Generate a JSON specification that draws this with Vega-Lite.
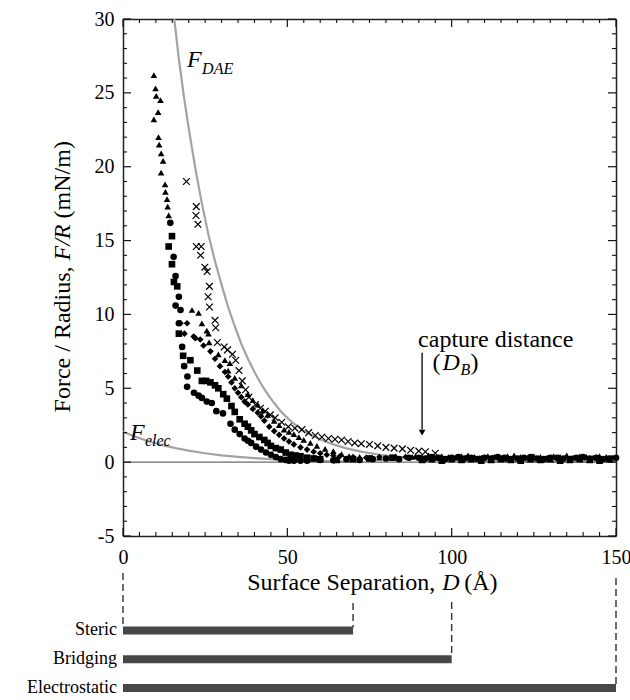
{
  "$schema": "https://vega.github.io/schema/vega-lite/v6.json",
  "padding": {"left": 27, "top": 9, "right": 0, "bottom": 0},
  "background": "white",
  "config": {
    "view": {"stroke": null},
    "font": "Liberation Serif",
    "axis": {"labelFont": "Liberation Serif", "titleFont": "Liberation Serif", "labelColor": "black", "titleColor": "black", "titleFontWeight": "normal", "grid": false, "domainColor": "#222", "domainWidth": 1.5}
  },
  "datasets": {
    "xmajor": [{"v": 0}, {"v": 50}, {"v": 100}, {"v": 150}],
    "xminor": [{"v": 5}, {"v": 10}, {"v": 15}, {"v": 20}, {"v": 25}, {"v": 30}, {"v": 35}, {"v": 40}, {"v": 45}, {"v": 55}, {"v": 60}, {"v": 65}, {"v": 70}, {"v": 75}, {"v": 80}, {"v": 85}, {"v": 90}, {"v": 95}, {"v": 105}, {"v": 110}, {"v": 115}, {"v": 120}, {"v": 125}, {"v": 130}, {"v": 135}, {"v": 140}, {"v": 145}],
    "ymajor": [{"v": -5}, {"v": 0}, {"v": 5}, {"v": 10}, {"v": 15}, {"v": 20}, {"v": 25}, {"v": 30}],
    "yminor": [{"v": -4}, {"v": -3}, {"v": -2}, {"v": -1}, {"v": 1}, {"v": 2}, {"v": 3}, {"v": 4}, {"v": 6}, {"v": 7}, {"v": 8}, {"v": 9}, {"v": 11}, {"v": 12}, {"v": 13}, {"v": 14}, {"v": 16}, {"v": 17}, {"v": 18}, {"v": 19}, {"v": 21}, {"v": 22}, {"v": 23}, {"v": 24}, {"v": 26}, {"v": 27}, {"v": 28}, {"v": 29}],
    "curves": [
      {"curve": "DAE", "D": 15.6, "F": 30}, {"curve": "DAE", "D": 17, "F": 27.3}, {"curve": "DAE", "D": 18.5, "F": 24.8}, {"curve": "DAE", "D": 20, "F": 22.6}, {"curve": "DAE", "D": 22, "F": 19.9}, {"curve": "DAE", "D": 24, "F": 17.5}, {"curve": "DAE", "D": 26, "F": 15.4}, {"curve": "DAE", "D": 28, "F": 13.6}, {"curve": "DAE", "D": 30, "F": 12.0}, {"curve": "DAE", "D": 32, "F": 10.5}, {"curve": "DAE", "D": 34, "F": 9.2}, {"curve": "DAE", "D": 36, "F": 8.0}, {"curve": "DAE", "D": 38, "F": 7.0}, {"curve": "DAE", "D": 40, "F": 6.1}, {"curve": "DAE", "D": 42, "F": 5.3}, {"curve": "DAE", "D": 44, "F": 4.6}, {"curve": "DAE", "D": 46, "F": 4.0}, {"curve": "DAE", "D": 48, "F": 3.45}, {"curve": "DAE", "D": 50, "F": 3.0}, {"curve": "DAE", "D": 52, "F": 2.6}, {"curve": "DAE", "D": 54.6, "F": 2.17}, {"curve": "DAE", "D": 57, "F": 1.85}, {"curve": "DAE", "D": 59.6, "F": 1.58}, {"curve": "DAE", "D": 62, "F": 1.36}, {"curve": "DAE", "D": 64.7, "F": 1.15}, {"curve": "DAE", "D": 68, "F": 0.93}, {"curve": "DAE", "D": 72.8, "F": 0.7}, {"curve": "DAE", "D": 78, "F": 0.5}, {"curve": "DAE", "D": 84, "F": 0.35}, {"curve": "DAE", "D": 90, "F": 0.25}, {"curve": "DAE", "D": 96, "F": 0.17}, {"curve": "DAE", "D": 102, "F": 0.12}, {"curve": "DAE", "D": 110, "F": 0.07}, {"curve": "DAE", "D": 120, "F": 0.04}, {"curve": "DAE", "D": 135, "F": 0.02}, {"curve": "DAE", "D": 150, "F": 0.01},
      {"curve": "elec", "D": 0, "F": 2.06}, {"curve": "elec", "D": 4, "F": 1.7}, {"curve": "elec", "D": 8, "F": 1.4}, {"curve": "elec", "D": 12, "F": 1.15}, {"curve": "elec", "D": 16, "F": 0.95}, {"curve": "elec", "D": 20, "F": 0.78}, {"curve": "elec", "D": 25, "F": 0.6}, {"curve": "elec", "D": 30, "F": 0.46}, {"curve": "elec", "D": 35, "F": 0.36}, {"curve": "elec", "D": 40, "F": 0.27}, {"curve": "elec", "D": 45, "F": 0.2}, {"curve": "elec", "D": 50, "F": 0.14}, {"curve": "elec", "D": 55, "F": 0.1}, {"curve": "elec", "D": 60, "F": 0.07}, {"curve": "elec", "D": 70, "F": 0.04}
    ],
    "pts": [
      {"D": 14.4, "F": 16.2, "s": "circle"}, {"D": 15.4, "F": 13.9, "s": "circle"}, {"D": 16.0, "F": 12.6, "s": "circle"}, {"D": 17.0, "F": 11.2, "s": "circle"}, {"D": 16.0, "F": 10.6, "s": "circle"}, {"D": 17.0, "F": 9.4, "s": "circle"}, {"D": 17.5, "F": 10.3, "s": "circle"}, {"D": 18.0, "F": 7.8, "s": "circle"}, {"D": 18.6, "F": 6.5, "s": "circle"}, {"D": 19.6, "F": 5.8, "s": "circle"}, {"D": 19.5, "F": 5.1, "s": "circle"}, {"D": 21.6, "F": 4.7, "s": "circle"}, {"D": 23, "F": 4.5, "s": "circle"}, {"D": 24, "F": 4.35, "s": "circle"}, {"D": 25.5, "F": 4.1, "s": "circle"}, {"D": 27, "F": 4.0, "s": "circle"}, {"D": 28.4, "F": 3.45, "s": "circle"}, {"D": 30.4, "F": 3.3, "s": "circle"}, {"D": 32.7, "F": 2.6, "s": "circle"}, {"D": 34, "F": 2.2, "s": "circle"}, {"D": 35.5, "F": 1.9, "s": "circle"}, {"D": 37, "F": 1.6, "s": "circle"}, {"D": 38, "F": 1.45, "s": "circle"}, {"D": 39, "F": 1.3, "s": "circle"}, {"D": 40.5, "F": 1.05, "s": "circle"}, {"D": 42, "F": 0.85, "s": "circle"}, {"D": 43.5, "F": 0.65, "s": "circle"}, {"D": 45, "F": 0.5, "s": "circle"}, {"D": 46.5, "F": 0.35, "s": "circle"}, {"D": 48, "F": 0.2, "s": "circle"}, {"D": 49.5, "F": 0.15, "s": "circle"}, {"D": 50.5, "F": 0.1, "s": "circle"}, {"D": 52, "F": 0.1, "s": "circle"}, {"D": 54, "F": 0.1, "s": "circle"},
      {"D": 14.9, "F": 15.3, "s": "square"}, {"D": 13.9, "F": 14.6, "s": "square"}, {"D": 14.9, "F": 13.4, "s": "square"}, {"D": 15.5, "F": 12.2, "s": "square"}, {"D": 16.5, "F": 11.9, "s": "square"}, {"D": 17.0, "F": 8.7, "s": "square"}, {"D": 18.3, "F": 7.2, "s": "square"}, {"D": 20.5, "F": 6.9, "s": "square"}, {"D": 22.6, "F": 6.2, "s": "square"}, {"D": 24, "F": 5.5, "s": "square"}, {"D": 25.3, "F": 5.5, "s": "square"}, {"D": 26.6, "F": 5.4, "s": "square"}, {"D": 28, "F": 5.2, "s": "square"}, {"D": 29, "F": 5.0, "s": "square"}, {"D": 30.5, "F": 4.6, "s": "square"}, {"D": 31.6, "F": 4.3, "s": "square"}, {"D": 33, "F": 3.8, "s": "square"}, {"D": 34, "F": 3.4, "s": "square"}, {"D": 35.5, "F": 2.9, "s": "square"}, {"D": 37, "F": 2.6, "s": "square"}, {"D": 38, "F": 2.4, "s": "square"}, {"D": 39, "F": 2.15, "s": "square"}, {"D": 40, "F": 1.9, "s": "square"}, {"D": 41.5, "F": 1.7, "s": "square"}, {"D": 43, "F": 1.5, "s": "square"}, {"D": 44, "F": 1.3, "s": "square"}, {"D": 45, "F": 1.1, "s": "square"}, {"D": 46.5, "F": 0.95, "s": "square"}, {"D": 48, "F": 0.85, "s": "square"}, {"D": 49.5, "F": 0.65, "s": "square"}, {"D": 51, "F": 0.5, "s": "square"}, {"D": 52.5, "F": 0.45, "s": "square"}, {"D": 54, "F": 0.4, "s": "square"}, {"D": 56, "F": 0.3, "s": "square"}, {"D": 58, "F": 0.25, "s": "square"},
      {"D": 17.5, "F": 9.4, "s": "diamond"}, {"D": 18.7, "F": 8.7, "s": "diamond"}, {"D": 19.5, "F": 9.4, "s": "diamond"}, {"D": 21.5, "F": 8.5, "s": "diamond"}, {"D": 22, "F": 8.4, "s": "diamond"}, {"D": 23.5, "F": 8.3, "s": "diamond"}, {"D": 24.5, "F": 7.9, "s": "diamond"}, {"D": 26.6, "F": 7.5, "s": "diamond"}, {"D": 28, "F": 7.0, "s": "diamond"}, {"D": 29.5, "F": 6.5, "s": "diamond"}, {"D": 31, "F": 6.1, "s": "diamond"}, {"D": 32, "F": 5.8, "s": "diamond"}, {"D": 33, "F": 5.4, "s": "diamond"}, {"D": 34, "F": 5.0, "s": "diamond"}, {"D": 35, "F": 4.7, "s": "diamond"}, {"D": 36, "F": 4.4, "s": "diamond"}, {"D": 37, "F": 4.1, "s": "diamond"}, {"D": 38, "F": 3.9, "s": "diamond"}, {"D": 39.5, "F": 3.6, "s": "diamond"}, {"D": 41, "F": 3.35, "s": "diamond"}, {"D": 42, "F": 3.1, "s": "diamond"}, {"D": 43, "F": 2.8, "s": "diamond"}, {"D": 44.5, "F": 2.4, "s": "diamond"}, {"D": 46, "F": 2.1, "s": "diamond"}, {"D": 47.5, "F": 1.85, "s": "diamond"}, {"D": 49, "F": 1.6, "s": "diamond"}, {"D": 50.5, "F": 1.4, "s": "diamond"}, {"D": 52, "F": 1.2, "s": "diamond"}, {"D": 54, "F": 1.0, "s": "diamond"}, {"D": 56, "F": 0.85, "s": "diamond"}, {"D": 58, "F": 0.7, "s": "diamond"}, {"D": 60, "F": 0.6, "s": "diamond"}, {"D": 62, "F": 0.5, "s": "diamond"}, {"D": 64, "F": 0.45, "s": "diamond"},
      {"D": 9.4, "F": 26.2, "s": "triangle"}, {"D": 9.9, "F": 25.3, "s": "triangle"}, {"D": 10.1, "F": 24.8, "s": "triangle"}, {"D": 11.4, "F": 24.5, "s": "triangle"}, {"D": 10.7, "F": 23.7, "s": "triangle"}, {"D": 9.4, "F": 23.2, "s": "triangle"}, {"D": 10.8, "F": 22.0, "s": "triangle"}, {"D": 11.0, "F": 21.5, "s": "triangle"}, {"D": 11.6, "F": 20.9, "s": "triangle"}, {"D": 12.2, "F": 20.4, "s": "triangle"}, {"D": 11.6, "F": 19.6, "s": "triangle"}, {"D": 12.8, "F": 18.8, "s": "triangle"}, {"D": 12.9, "F": 18.3, "s": "triangle"}, {"D": 13.4, "F": 17.8, "s": "triangle"}, {"D": 13.6, "F": 17.3, "s": "triangle"}, {"D": 13.9, "F": 16.7, "s": "triangle"},
      {"D": 21, "F": 10.3, "s": "triangle"}, {"D": 23, "F": 10.1, "s": "triangle"}, {"D": 24, "F": 9.4, "s": "triangle"}, {"D": 25.5, "F": 8.9, "s": "triangle"}, {"D": 26, "F": 8.7, "s": "triangle"}, {"D": 26.2, "F": 8.1, "s": "triangle"}, {"D": 29, "F": 7.3, "s": "triangle"}, {"D": 31, "F": 6.9, "s": "triangle"}, {"D": 32, "F": 6.2, "s": "triangle"}, {"D": 32.5, "F": 6.7, "s": "triangle"}, {"D": 34, "F": 5.7, "s": "triangle"}, {"D": 36, "F": 5.2, "s": "triangle"}, {"D": 38, "F": 4.6, "s": "triangle"}, {"D": 39.5, "F": 4.2, "s": "triangle"}, {"D": 41, "F": 3.9, "s": "triangle"}, {"D": 42.5, "F": 3.5, "s": "triangle"}, {"D": 44, "F": 3.2, "s": "triangle"}, {"D": 46, "F": 2.8, "s": "triangle"}, {"D": 47.5, "F": 2.5, "s": "triangle"}, {"D": 49, "F": 2.2, "s": "triangle"}, {"D": 50.5, "F": 2.05, "s": "triangle"}, {"D": 52, "F": 1.9, "s": "triangle"}, {"D": 53.5, "F": 1.7, "s": "triangle"}, {"D": 55, "F": 1.5, "s": "triangle"}, {"D": 57, "F": 1.3, "s": "triangle"}, {"D": 59, "F": 1.1, "s": "triangle"}, {"D": 61.5, "F": 0.9, "s": "triangle"}, {"D": 64, "F": 0.75, "s": "triangle"}, {"D": 66.5, "F": 0.55, "s": "triangle"}, {"D": 68.8, "F": 0.4, "s": "triangle"}, {"D": 72, "F": 0.35, "s": "triangle"}, {"D": 78, "F": 0.3, "s": "triangle"}, {"D": 83, "F": 0.4, "s": "triangle"}, {"D": 88, "F": 0.35, "s": "triangle"},
      {"D": 56, "F": 0.1, "s": "circle"}, {"D": 60, "F": 0.15, "s": "circle"}, {"D": 64, "F": 0.12, "s": "circle"}, {"D": 68, "F": 0.2, "s": "circle"}, {"D": 72, "F": 0.15, "s": "circle"}, {"D": 76, "F": 0.2, "s": "circle"}, {"D": 80, "F": 0.25, "s": "circle"}, {"D": 84, "F": 0.2, "s": "circle"}, {"D": 87, "F": 0.3, "s": "circle"},
      {"D": 60, "F": 0.2, "s": "square"}, {"D": 65, "F": 0.15, "s": "square"}, {"D": 70, "F": 0.2, "s": "square"}, {"D": 75, "F": 0.25, "s": "square"}, {"D": 82, "F": 0.3, "s": "square"},
      {"D": 66, "F": 0.4, "s": "diamond"}, {"D": 70, "F": 0.35, "s": "diamond"}, {"D": 74, "F": 0.3, "s": "diamond"}, {"D": 78, "F": 0.35, "s": "diamond"}, {"D": 82, "F": 0.3, "s": "diamond"}, {"D": 86, "F": 0.35, "s": "diamond"},
      {"D": 90, "F": 0.3, "s": "circle"}, {"D": 92, "F": 0.25, "s": "circle"}, {"D": 94, "F": 0.35, "s": "circle"}, {"D": 96, "F": 0.3, "s": "circle"}, {"D": 98, "F": 0.2, "s": "circle"}, {"D": 100, "F": 0.3, "s": "circle"}, {"D": 102, "F": 0.35, "s": "circle"}, {"D": 104, "F": 0.25, "s": "circle"}, {"D": 106, "F": 0.3, "s": "circle"}, {"D": 108, "F": 0.2, "s": "circle"}, {"D": 110, "F": 0.3, "s": "circle"}, {"D": 112, "F": 0.25, "s": "circle"}, {"D": 114, "F": 0.35, "s": "circle"}, {"D": 116, "F": 0.3, "s": "circle"}, {"D": 118, "F": 0.2, "s": "circle"}, {"D": 120, "F": 0.25, "s": "circle"}, {"D": 122, "F": 0.3, "s": "circle"}, {"D": 124, "F": 0.35, "s": "circle"}, {"D": 126, "F": 0.25, "s": "circle"}, {"D": 128, "F": 0.2, "s": "circle"}, {"D": 130, "F": 0.3, "s": "circle"}, {"D": 132, "F": 0.3, "s": "circle"}, {"D": 134, "F": 0.25, "s": "circle"}, {"D": 136, "F": 0.2, "s": "circle"}, {"D": 138, "F": 0.3, "s": "circle"}, {"D": 140, "F": 0.35, "s": "circle"}, {"D": 142, "F": 0.25, "s": "circle"}, {"D": 144, "F": 0.3, "s": "circle"}, {"D": 146, "F": 0.2, "s": "circle"}, {"D": 148, "F": 0.25, "s": "circle"}, {"D": 150, "F": 0.3, "s": "circle"},
      {"D": 89, "F": 0.4, "s": "triangle"}, {"D": 91, "F": 0.35, "s": "triangle"}, {"D": 93, "F": 0.45, "s": "triangle"}, {"D": 95, "F": 0.3, "s": "triangle"}, {"D": 97, "F": 0.4, "s": "triangle"}, {"D": 99, "F": 0.35, "s": "triangle"}, {"D": 101, "F": 0.3, "s": "triangle"}, {"D": 103, "F": 0.4, "s": "triangle"}, {"D": 105, "F": 0.45, "s": "triangle"}, {"D": 107, "F": 0.35, "s": "triangle"}, {"D": 109, "F": 0.3, "s": "triangle"}, {"D": 111, "F": 0.4, "s": "triangle"}, {"D": 113, "F": 0.35, "s": "triangle"}, {"D": 115, "F": 0.3, "s": "triangle"}, {"D": 117, "F": 0.4, "s": "triangle"}, {"D": 119, "F": 0.45, "s": "triangle"}, {"D": 121, "F": 0.35, "s": "triangle"}, {"D": 123, "F": 0.3, "s": "triangle"}, {"D": 125, "F": 0.4, "s": "triangle"}, {"D": 127, "F": 0.35, "s": "triangle"}, {"D": 129, "F": 0.3, "s": "triangle"}, {"D": 131, "F": 0.4, "s": "triangle"}, {"D": 133, "F": 0.35, "s": "triangle"}, {"D": 135, "F": 0.45, "s": "triangle"}, {"D": 137, "F": 0.3, "s": "triangle"}, {"D": 139, "F": 0.4, "s": "triangle"}, {"D": 141, "F": 0.35, "s": "triangle"}, {"D": 143, "F": 0.3, "s": "triangle"}, {"D": 145, "F": 0.4, "s": "triangle"}, {"D": 147, "F": 0.35, "s": "triangle"}, {"D": 149, "F": 0.3, "s": "triangle"},
      {"D": 91, "F": 0.15, "s": "square"}, {"D": 94, "F": 0.2, "s": "square"}, {"D": 97, "F": 0.1, "s": "square"}, {"D": 100, "F": 0.2, "s": "square"}, {"D": 103, "F": 0.15, "s": "square"}, {"D": 106, "F": 0.2, "s": "square"}, {"D": 109, "F": 0.1, "s": "square"}, {"D": 112, "F": 0.15, "s": "square"}, {"D": 115, "F": 0.2, "s": "square"}, {"D": 118, "F": 0.15, "s": "square"}, {"D": 121, "F": 0.1, "s": "square"}, {"D": 124, "F": 0.2, "s": "square"}, {"D": 127, "F": 0.15, "s": "square"}, {"D": 130, "F": 0.2, "s": "square"}, {"D": 133, "F": 0.1, "s": "square"}, {"D": 136, "F": 0.15, "s": "square"}, {"D": 139, "F": 0.2, "s": "square"}, {"D": 142, "F": 0.15, "s": "square"}, {"D": 145, "F": 0.1, "s": "square"}, {"D": 148, "F": 0.2, "s": "square"},
      {"D": 92.5, "F": 0.25, "s": "diamond"}, {"D": 96.5, "F": 0.3, "s": "diamond"}, {"D": 100.5, "F": 0.2, "s": "diamond"}, {"D": 104.5, "F": 0.3, "s": "diamond"}, {"D": 108.5, "F": 0.25, "s": "diamond"}, {"D": 112.5, "F": 0.3, "s": "diamond"}, {"D": 116.5, "F": 0.2, "s": "diamond"}, {"D": 120.5, "F": 0.25, "s": "diamond"}, {"D": 124.5, "F": 0.3, "s": "diamond"}, {"D": 128.5, "F": 0.2, "s": "diamond"}, {"D": 132.5, "F": 0.3, "s": "diamond"}, {"D": 136.5, "F": 0.25, "s": "diamond"}, {"D": 140.5, "F": 0.3, "s": "diamond"}, {"D": 144.5, "F": 0.2, "s": "diamond"}, {"D": 148.5, "F": 0.25, "s": "diamond"}
    ],
    "crosses": [
      {"D": 19.3, "F": 19.0}, {"D": 22.3, "F": 17.3}, {"D": 22.2, "F": 16.7}, {"D": 22.8, "F": 16.1}, {"D": 22.3, "F": 14.6}, {"D": 23.8, "F": 14.6}, {"D": 23.6, "F": 14.0}, {"D": 24.9, "F": 13.2}, {"D": 25.6, "F": 12.9}, {"D": 26.3, "F": 11.9}, {"D": 25.9, "F": 11.2}, {"D": 26.3, "F": 10.5}, {"D": 28, "F": 9.6}, {"D": 28.2, "F": 9.1}, {"D": 28.7, "F": 8.1}, {"D": 30.8, "F": 7.8}, {"D": 31.8, "F": 7.6}, {"D": 33.3, "F": 7.3}, {"D": 34.3, "F": 6.9}, {"D": 35.3, "F": 6.2}, {"D": 36.3, "F": 5.5}, {"D": 37.3, "F": 4.9}, {"D": 38.3, "F": 4.4}, {"D": 40.3, "F": 3.9}, {"D": 41.8, "F": 3.65}, {"D": 43.3, "F": 3.45}, {"D": 44.8, "F": 3.2}, {"D": 46.3, "F": 3.0}, {"D": 48.3, "F": 2.7}, {"D": 50.3, "F": 2.4}, {"D": 52.3, "F": 2.3}, {"D": 54.4, "F": 2.2}, {"D": 56.5, "F": 2.0}, {"D": 58.5, "F": 1.8}, {"D": 60.5, "F": 1.7}, {"D": 62.5, "F": 1.6}, {"D": 64.5, "F": 1.55}, {"D": 66.5, "F": 1.5}, {"D": 68.5, "F": 1.4}, {"D": 70.5, "F": 1.3}, {"D": 72.5, "F": 1.25}, {"D": 75, "F": 1.2}, {"D": 77.5, "F": 1.1}, {"D": 80, "F": 1.0}, {"D": 82.5, "F": 0.95}, {"D": 85, "F": 0.9}, {"D": 87.5, "F": 0.8}, {"D": 90, "F": 0.75}, {"D": 92, "F": 0.7}, {"D": 95, "F": 0.6}
    ],
    "bars": [
      {"name": "Steric", "start": 0, "end": 70, "row": 3},
      {"name": "Bridging", "start": 0, "end": 100, "row": 2},
      {"name": "Electrostatic", "start": 0, "end": 150, "row": 1}
    ],
    "dashes": [
      {"D": 0, "top": 5.0, "bottom": 3.23},
      {"D": 70, "top": 3.96, "bottom": 3.1},
      {"D": 100, "top": 3.99, "bottom": 2.1},
      {"D": 150, "top": 4.83, "bottom": 1.1}
    ]
  },
  "bounds": "flush",
  "spacing": 4,
  "vconcat": [
    {
      "width": 493,
      "height": 517,
      "resolve": {"axis": {"x": "independent", "y": "independent"}},
      "layer": [
        {
          "data": {"name": "curves"},
          "mark": {"type": "line", "color": "#a3a3a3", "strokeWidth": 2.2},
          "encoding": {
            "x": {"field": "D", "type": "quantitative", "scale": {"domain": [0, 150], "nice": false, "zero": false},
              "axis": {"orient": "bottom", "values": [0, 50, 100, 150], "ticks": false,
                "labelPadding": 11, "labelFontSize": 20, "labelFlush": false, "labelOverlap": false, "title": null}},
            "y": {"field": "F", "type": "quantitative", "scale": {"domain": [-5, 30], "nice": false, "zero": false},
              "axis": {"orient": "left", "values": [-5, 0, 5, 10, 15, 20, 25, 30], "ticks": false,
                "labelExpr": "'' + datum.value",
                "labelPadding": 9, "labelFontSize": 20, "labelFlush": false, "labelOverlap": false, "title": null}},
            "detail": {"field": "curve", "type": "nominal"}
          }
        },
        {
          "data": {"values": [{}]},
          "mark": {"type": "rule", "color": "#6a6a6a", "strokeWidth": 1.3},
          "encoding": {
            "x": {"datum": 0, "type": "quantitative",
              "axis": {"orient": "top", "values": [0, 50, 100, 150], "labels": false, "title": null, "ticks": false}},
            "x2": {"datum": 150},
            "y": {"datum": 0, "type": "quantitative",
              "axis": {"orient": "right", "values": [-5, 0, 5, 10, 15, 20, 25, 30], "labels": false, "title": null, "ticks": false}}
          }
        },
        {
          "data": {"name": "xmajor"},
          "mark": {"type": "rule", "color": "#111", "strokeWidth": 1.2},
          "encoding": {"x": {"field": "v", "type": "quantitative", "axis": null}, "y": {"datum": -5, "type": "quantitative", "axis": null}, "y2": {"datum": -4.46}}
        },
        {
          "data": {"name": "xmajor"},
          "mark": {"type": "rule", "color": "#111", "strokeWidth": 1.2},
          "encoding": {"x": {"field": "v", "type": "quantitative", "axis": null}, "y": {"datum": 30, "type": "quantitative", "axis": null}, "y2": {"datum": 29.46}}
        },
        {
          "data": {"name": "xminor"},
          "mark": {"type": "rule", "color": "#111", "strokeWidth": 1.1},
          "encoding": {"x": {"field": "v", "type": "quantitative", "axis": null}, "y": {"datum": -5, "type": "quantitative", "axis": null}, "y2": {"datum": -4.73}}
        },
        {
          "data": {"name": "xminor"},
          "mark": {"type": "rule", "color": "#111", "strokeWidth": 1.1},
          "encoding": {"x": {"field": "v", "type": "quantitative", "axis": null}, "y": {"datum": 30, "type": "quantitative", "axis": null}, "y2": {"datum": 29.73}}
        },
        {
          "data": {"name": "ymajor"},
          "mark": {"type": "rule", "color": "#111", "strokeWidth": 1.2},
          "encoding": {"y": {"field": "v", "type": "quantitative", "axis": null}, "x": {"datum": 0, "type": "quantitative", "axis": null}, "x2": {"datum": 2.43}}
        },
        {
          "data": {"name": "ymajor"},
          "mark": {"type": "rule", "color": "#111", "strokeWidth": 1.2},
          "encoding": {"y": {"field": "v", "type": "quantitative", "axis": null}, "x": {"datum": 150, "type": "quantitative", "axis": null}, "x2": {"datum": 147.57}}
        },
        {
          "data": {"name": "yminor"},
          "mark": {"type": "rule", "color": "#111", "strokeWidth": 1.1},
          "encoding": {"y": {"field": "v", "type": "quantitative", "axis": null}, "x": {"datum": 0, "type": "quantitative", "axis": null}, "x2": {"datum": 1.22}}
        },
        {
          "data": {"name": "yminor"},
          "mark": {"type": "rule", "color": "#111", "strokeWidth": 1.1},
          "encoding": {"y": {"field": "v", "type": "quantitative", "axis": null}, "x": {"datum": 150, "type": "quantitative", "axis": null}, "x2": {"datum": 148.78}}
        },
        {
          "data": {"name": "pts"},
          "mark": {"type": "point", "filled": true, "opacity": 1, "color": "black", "size": 44},
          "encoding": {
            "x": {"field": "D", "type": "quantitative", "axis": null},
            "y": {"field": "F", "type": "quantitative", "axis": null},
            "shape": {"field": "s", "type": "nominal", "scale": {"domain": ["circle", "square", "diamond", "triangle"], "range": ["circle", "square", "diamond", "triangle-up"]}, "legend": null}
          }
        },
        {
          "data": {"name": "crosses"},
          "mark": {"type": "point", "shape": "M-1,-1L1,1M-1,1L1,-1", "filled": false, "opacity": 1, "color": "black", "strokeWidth": 1.2, "size": 45},
          "encoding": {
            "x": {"field": "D", "type": "quantitative", "axis": null},
            "y": {"field": "F", "type": "quantitative", "axis": null}
          }
        },
        {
          "data": {"values": [{}]},
          "mark": {"type": "rule", "color": "black", "strokeWidth": 1.3},
          "encoding": {
            "x": {"datum": 91, "type": "quantitative", "axis": null},
            "y": {"datum": 7.4, "type": "quantitative", "axis": null},
            "y2": {"datum": 2.2}
          }
        },
        {
          "data": {"values": [{}]},
          "mark": {"type": "point", "shape": "triangle-down", "filled": true, "opacity": 1, "color": "black", "size": 45},
          "encoding": {
            "x": {"datum": 91, "type": "quantitative", "axis": null},
            "y": {"datum": 2.0, "type": "quantitative", "axis": null}
          }
        },
        {
          "data": {"values": [{}]},
          "mark": {"type": "text", "text": "capture distance", "font": "Liberation Serif", "fontSize": 24, "align": "center", "baseline": "alphabetic", "color": "black"},
          "encoding": {
            "x": {"datum": 113.4, "type": "quantitative", "axis": null},
            "y": {"datum": 7.8, "type": "quantitative", "axis": null}
          }
        },
        {
          "data": {"values": [{}]},
          "mark": {"type": "text", "text": "(", "font": "Liberation Serif", "fontSize": 24, "align": "left", "baseline": "alphabetic", "color": "black"},
          "encoding": {"x": {"datum": 94.2, "type": "quantitative", "axis": null}, "y": {"datum": 6.24, "type": "quantitative", "axis": null}}
        },
        {
          "data": {"values": [{}]},
          "mark": {"type": "text", "text": "D", "font": "Liberation Serif", "fontStyle": "italic", "fontSize": 24, "align": "left", "baseline": "alphabetic", "dx": 10, "color": "black"},
          "encoding": {"x": {"datum": 94.2, "type": "quantitative", "axis": null}, "y": {"datum": 6.24, "type": "quantitative", "axis": null}}
        },
        {
          "data": {"values": [{}]},
          "mark": {"type": "text", "text": "B", "font": "Liberation Serif", "fontStyle": "italic", "fontSize": 16, "align": "left", "baseline": "alphabetic", "dx": 28, "dy": 5, "color": "black"},
          "encoding": {"x": {"datum": 94.2, "type": "quantitative", "axis": null}, "y": {"datum": 6.24, "type": "quantitative", "axis": null}}
        },
        {
          "data": {"values": [{}]},
          "mark": {"type": "text", "text": ")", "font": "Liberation Serif", "fontSize": 24, "align": "left", "baseline": "alphabetic", "dx": 38, "color": "black"},
          "encoding": {"x": {"datum": 94.2, "type": "quantitative", "axis": null}, "y": {"datum": 6.24, "type": "quantitative", "axis": null}}
        },
        {
          "data": {"values": [{}]},
          "mark": {"type": "text", "text": "F", "font": "Liberation Serif", "fontStyle": "italic", "fontSize": 24, "align": "left", "baseline": "alphabetic", "color": "black"},
          "encoding": {"x": {"datum": 19.5, "type": "quantitative", "axis": null}, "y": {"datum": 26.75, "type": "quantitative", "axis": null}}
        },
        {
          "data": {"values": [{}]},
          "mark": {"type": "text", "text": "DAE", "font": "Liberation Serif", "fontStyle": "italic", "fontSize": 16, "align": "left", "baseline": "alphabetic", "dx": 15, "dy": 7, "color": "black"},
          "encoding": {"x": {"datum": 19.5, "type": "quantitative", "axis": null}, "y": {"datum": 26.75, "type": "quantitative", "axis": null}}
        },
        {
          "data": {"values": [{}]},
          "mark": {"type": "text", "text": "F", "font": "Liberation Serif", "fontStyle": "italic", "fontSize": 24, "align": "left", "baseline": "alphabetic", "color": "black"},
          "encoding": {"x": {"datum": 2.1, "type": "quantitative", "axis": null}, "y": {"datum": 1.5, "type": "quantitative", "axis": null}}
        },
        {
          "data": {"values": [{}]},
          "mark": {"type": "text", "text": "elec", "font": "Liberation Serif", "fontStyle": "italic", "fontSize": 16, "align": "left", "baseline": "alphabetic", "dx": 15, "dy": 6, "color": "black"},
          "encoding": {"x": {"datum": 2.1, "type": "quantitative", "axis": null}, "y": {"datum": 1.5, "type": "quantitative", "axis": null}}
        },
        {
          "data": {"values": [{}]},
          "mark": {"type": "text", "text": "Surface Separation,", "font": "Liberation Serif", "fontSize": 24, "align": "right", "baseline": "alphabetic", "dx": -7, "color": "black"},
          "encoding": {"x": {"datum": 97.1, "type": "quantitative", "axis": null}, "y": {"datum": -8.65, "type": "quantitative", "axis": null}}
        },
        {
          "data": {"values": [{}]},
          "mark": {"type": "text", "text": "D", "font": "Liberation Serif", "fontStyle": "italic", "fontSize": 24, "align": "left", "baseline": "alphabetic", "color": "black"},
          "encoding": {"x": {"datum": 97.1, "type": "quantitative", "axis": null}, "y": {"datum": -8.65, "type": "quantitative", "axis": null}}
        },
        {
          "data": {"values": [{}]},
          "mark": {"type": "text", "text": "(Å)", "font": "Liberation Serif", "fontSize": 24, "align": "left", "baseline": "alphabetic", "dx": 22, "color": "black"},
          "encoding": {"x": {"datum": 97.1, "type": "quantitative", "axis": null}, "y": {"datum": -8.65, "type": "quantitative", "axis": null}}
        },
        {
          "data": {"values": [{}]},
          "mark": {"type": "text", "text": "Force / Radius,", "font": "Liberation Serif", "fontSize": 24, "angle": 270, "align": "right", "baseline": "middle", "color": "black"},
          "encoding": {"x": {"datum": -18.4, "type": "quantitative", "axis": null}, "y": {"datum": 13.25, "type": "quantitative", "axis": null}}
        },
        {
          "data": {"values": [{}]},
          "mark": {"type": "text", "text": "F/R", "font": "Liberation Serif", "fontStyle": "italic", "fontSize": 24, "angle": 270, "align": "left", "baseline": "middle", "color": "black"},
          "encoding": {"x": {"datum": -18.4, "type": "quantitative", "axis": null}, "y": {"datum": 13.65, "type": "quantitative", "axis": null}}
        },
        {
          "data": {"values": [{}]},
          "mark": {"type": "text", "text": "(mN/m)", "font": "Liberation Serif", "fontSize": 24, "angle": 270, "align": "left", "baseline": "middle", "color": "black"},
          "encoding": {"x": {"datum": -18.4, "type": "quantitative", "axis": null}, "y": {"datum": 16.5, "type": "quantitative", "axis": null}}
        }
      ]
    },
    {
      "width": 493,
      "height": 158,
      "layer": [
        {
          "data": {"name": "dashes"},
          "mark": {"type": "rule", "strokeDash": [7, 4], "strokeWidth": 1.4, "color": "#333"},
          "encoding": {
            "x": {"field": "D", "type": "quantitative", "scale": {"domain": [0, 150], "nice": false, "zero": false}, "axis": null},
            "y": {"field": "top", "type": "quantitative", "scale": {"domain": [0.65, 6.15], "nice": false, "zero": false}, "axis": null},
            "y2": {"field": "bottom"}
          }
        },
        {
          "data": {"name": "bars"},
          "mark": {"type": "rule", "strokeWidth": 8, "color": "#474747"},
          "encoding": {
            "x": {"field": "start", "type": "quantitative", "axis": null},
            "x2": {"field": "end"},
            "y": {"field": "row", "type": "quantitative", "axis": null}
          }
        },
        {
          "data": {"name": "bars"},
          "mark": {"type": "text", "align": "right", "baseline": "middle", "dx": -6, "fontSize": 18, "font": "Liberation Serif", "color": "black"},
          "encoding": {
            "x": {"field": "start", "type": "quantitative", "axis": null},
            "y": {"field": "row", "type": "quantitative", "axis": null},
            "text": {"field": "name", "type": "nominal"}
          }
        }
      ]
    }
  ]
}
